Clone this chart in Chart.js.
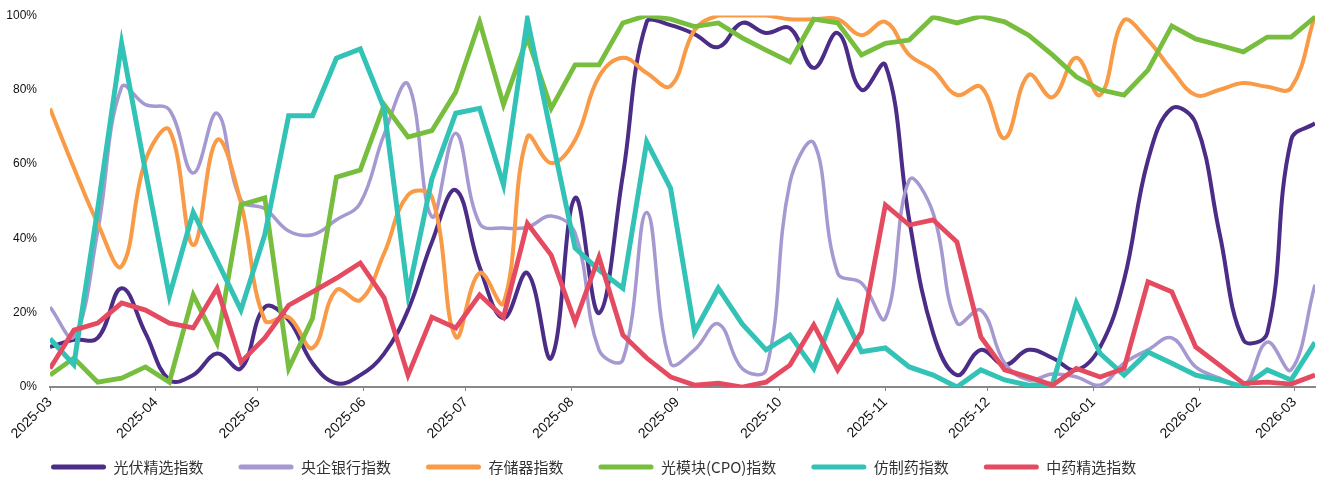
<!DOCTYPE html>
<html>
<head>
<meta charset="utf-8">
<script src="https://cdn.jsdelivr.net/npm/chart.js@4"></script>
<style>
  html, body { margin: 0; padding: 0; background: #fff; }
</style>
</head>
<body>
<canvas id="chart" width="1319" height="479"></canvas>
<script>
// weekly observation dates
var dates = [
  "2025-03-01", "2025-03-08", "2025-03-15", "2025-03-22", "2025-03-29",
  "2025-04-05", "2025-04-12", "2025-04-19", "2025-04-26",
  "2025-05-03", "2025-05-10", "2025-05-17", "2025-05-24", "2025-05-31",
  "2025-06-07", "2025-06-14", "2025-06-21", "2025-06-28",
  "2025-07-05", "2025-07-12", "2025-07-19", "2025-07-26",
  "2025-08-02", "2025-08-09", "2025-08-16", "2025-08-23", "2025-08-30",
  "2025-09-06", "2025-09-13", "2025-09-20", "2025-09-27",
  "2025-10-04", "2025-10-11", "2025-10-18", "2025-10-25",
  "2025-11-01", "2025-11-08", "2025-11-15", "2025-11-22", "2025-11-29",
  "2025-12-06", "2025-12-13", "2025-12-20", "2025-12-27",
  "2026-01-03", "2026-01-10", "2026-01-17", "2026-01-24", "2026-01-31",
  "2026-02-07", "2026-02-14", "2026-02-21", "2026-02-28",
  "2026-03-07"
];
var monthTicks = ["2025-03", "2025-04", "2025-05", "2025-06", "2025-07", "2025-08", "2025-09",
  "2025-10", "2025-11", "2025-12", "2026-01", "2026-02", "2026-03"];
var yTicks = [0, 20, 40, 60, 80, 100];

var seriesNames = ["光伏精选指数", "央企银行指数", "存储器指数", "光模块(CPO)指数", "仿制药指数", "中药精选指数"];

var guangfu = [10.8, 12.7, 13.2, 26.6, 14.5, 1.9, 3.2, 9, 5, 21.5, 18, 6.4, 1, 3.2, 9, 20.7, 39, 53,
  32.3, 18.5, 30.7, 7.8, 50.9, 19.9, 57, 98.3, 97.4, 95, 91.5, 98, 95.3, 96.6, 85.9, 95.3, 80, 86.7,
  45, 14.5, 3.2, 10, 5.9, 10, 7.8, 4.6, 10.8, 28.8, 61, 75, 71, 41.4, 12.7, 14.5, 66.5, 71];
var yangqi = [21.5, 13.5, 42, 80.7, 76, 74.6, 57.6, 73.7, 50.3, 48, 42, 41, 45, 49.5, 68, 81.5, 45.8, 68.3,
  44, 42.8, 43, 46, 41.4, 10, 7.3, 47, 6.4, 10, 17, 5, 4.6, 55, 65.7, 30.7, 28, 18.5,
  55.7, 46.8, 17.2, 20.7, 6.4, 1.9, 3.5, 2.7, 0.5, 6.4, 10, 13.2, 5.4, 2.4, 0, 12.1, 4.6, 27.5];
var cunchu = [75, 59, 44, 32.5, 61, 69.2, 38.2, 66.5, 49.5, 18, 18.8, 10.5, 26.1, 23.4, 36, 51.7, 51.2, 13.5,
  30.7, 22.6, 67.3, 60.3, 66.5, 83.5, 88.6, 84.5, 81, 96, 100, 100, 100, 99, 99, 99, 94.7, 98.3,
  89.4, 85.3, 78.6, 80.8, 67, 84, 78, 88.6, 78.6, 98.8, 93.4, 85.3, 78.6, 80, 81.8, 80.8, 80.5, 100];
var cpo = [3.2, 7.8, 1.3, 2.4, 5.4, 1.3, 24.8, 11.8, 49, 50.9, 5, 18.5, 56.5, 58.4, 76, 67.3, 69, 79.4,
  98.3, 76, 94, 75, 86.7, 86.7, 98, 100, 99, 97, 98, 94, 90.7, 87.5, 99, 98, 89.4, 92.5,
  93.4, 99.6, 98, 99.8, 98.3, 94.7, 89.4, 83.5, 80, 78.6, 85.3, 97.2, 93.7, 92, 90.2, 94.2, 94.2, 99.6];
var fangzhi = [13, 6, 48, 92.5, 58, 24.5, 47, 34, 20.7, 41, 73, 73, 88.5, 91, 75, 25, 56, 73.7,
  75, 54.4, 99, 68, 37.4, 31.5, 26.6, 66, 53.5, 14.8, 26.6, 17, 10, 14, 5, 22.6, 9.5, 10.5,
  5.4, 3.2, 0, 4.6, 1.9, 0.5, 0.8, 22.6, 9, 3.2, 9.4, 6.4, 3.2, 1.9, 0, 4.6, 1.9, 12];
var zhongyao = [5, 15.3, 17.2, 22.6, 20.7, 17.2, 15.9, 26.6, 6.7, 13.2, 22, 25.6, 29.3, 33.4, 24, 3.2, 18.8, 15.9,
  24.8, 18.8, 44, 35.5, 17.5, 35, 14, 7.8, 2.7, 0.5, 1, 0, 1.3, 5.9, 16.7, 4.6, 14.8, 49,
  43.6, 45, 39, 13.5, 4.6, 2.7, 0.5, 5, 2.7, 5, 28.3, 25.6, 10.8, 5.9, 1, 1.3, 0.8, 3.2];

var colors = ["#4b2c86", "#a698d0", "#f99a46", "#77bd3e", "#32c2b6", "#e54b60"];

function dayOf(s) {
  var p = s.split("-");
  return (Date.UTC(+p[0], +p[1] - 1, p[2] ? +p[2] : 1) - Date.UTC(2025, 2, 1)) / 86400000;
}
function toPoints(arr) {
  return arr.map(function (v, i) { return { x: dayOf(dates[i]), y: v }; });
}

var allSeries = [guangfu, yangqi, cunchu, cpo, fangzhi, zhongyao];
var widths = [4, 3.5, 4, 4.8, 5, 4.8];
var smooth = [0.4, 0.4, 0.4, 0, 0, 0];

var datasets = allSeries.map(function (arr, i) {
  return {
    label: seriesNames[i],
    data: toPoints(arr),
    borderColor: colors[i],
    backgroundColor: colors[i],
    borderWidth: widths[i],
    tension: smooth[i],
    pointRadius: 0,
    fill: false,
    order: 5 - i
  };
});

// move the legend up under the rotated tick labels and line it up with the plot
var legendPlace = {
  id: "legendPlace",
  afterLayout: function (chart) {
    var lg = chart.legend;
    lg.left = 16;
    lg.top = 424.5;
    lg.bottom = 479;
  }
};

new Chart(document.getElementById("chart"), {
  type: "line",
  data: { datasets: datasets },
  plugins: [legendPlace],
  options: {
    responsive: false,
    animation: false,
    layout: { padding: { top: 0, right: 4, bottom: 0, left: 0 } },
    plugins: {
      tooltip: { enabled: false },
      legend: {
        position: "bottom",
        align: "start",
        maxHeight: 30,
        labels: {
          boxWidth: 55,
          boxHeight: 5,
          useBorderRadius: true,
          borderRadius: 2.5,
          padding: 35,
          color: "#333",
          font: { family: "'Noto Sans CJK SC'", size: 15 },
          sort: function (a, b) { return a.datasetIndex - b.datasetIndex; },
          generateLabels: function (chart) {
            var items = Chart.defaults.plugins.legend.labels.generateLabels(chart);
            items.forEach(function (it) { it.lineWidth = 0; });
            return items;
          }
        }
      }
    },
    scales: {
      x: {
        type: "linear",
        min: 0,
        max: dayOf(dates[dates.length - 1]),
        afterBuildTicks: function (scale) {
          scale.ticks = monthTicks.map(function (m) { return { value: dayOf(m) }; });
        },
        afterFit: function (scale) { scale.height = 62; },
        ticks: {
          autoSkip: false,
          minRotation: 45,
          maxRotation: 45,
          padding: 3,
          color: "#111",
          font: { family: "'Liberation Sans', Arial", size: 14 },
          callback: function (v) {
            for (var k = 0; k < monthTicks.length; k++) {
              if (dayOf(monthTicks[k]) === v) return monthTicks[k];
            }
            return "";
          }
        },
        grid: { display: true, drawOnChartArea: false, drawTicks: true, tickLength: 4, color: "#888", lineWidth: 1 },
        border: { display: true, color: "#888", width: 2 }
      },
      y: {
        min: 0,
        max: 100,
        afterBuildTicks: function (scale) {
          scale.ticks = yTicks.map(function (v) { return { value: v }; });
        },
        afterFit: function (scale) {
          scale.width = 50;
          scale.paddingTop = 15.5;
        },
        ticks: {
          padding: 13,
          color: "#111",
          font: { family: "'Liberation Sans', Arial", size: 12 },
          callback: function (v) { return v + "%"; }
        },
        grid: { display: false, drawTicks: false },
        border: { display: false }
      }
    }
  }
});
</script>
</body>
</html>
